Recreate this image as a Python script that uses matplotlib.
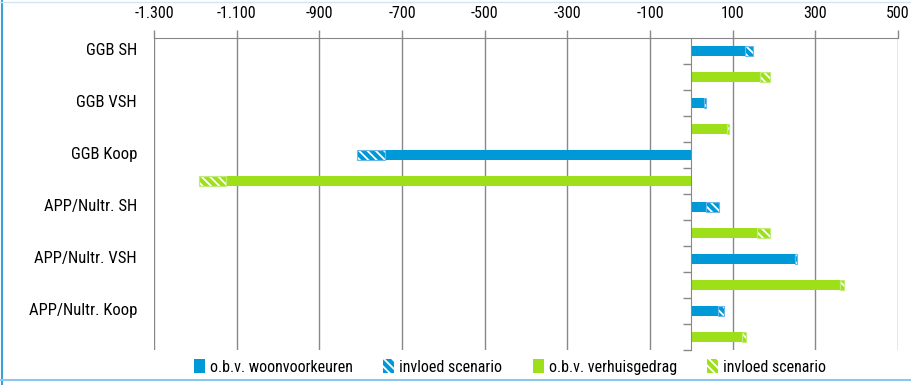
import matplotlib
matplotlib.use("Agg")
import matplotlib.pyplot as plt
from matplotlib.patches import Patch
from matplotlib.lines import Line2D
from matplotlib import font_manager
import numpy as np

names = {f.name for f in font_manager.fontManager.ttflist}
fam = [n for n in ['Liberation Sans Narrow', 'DejaVu Sans Condensed', 'Roboto Condensed'] if n in names]
plt.rcParams['font.family'] = fam + ['DejaVu Sans']
if not fam:
    plt.rcParams['font.stretch'] = 'condensed'

categories = ["GGB SH", "GGB VSH", "GGB Koop", "APP/Nultr. SH", "APP/Nultr. VSH", "APP/Nultr. Koop"]
woon_base = [130, 30, -740, 35, 250, 65]
woon_scen = [20, 5, -70, 31, 5, 15]
verh_base = [165, 86, -1125, 160, 360, 123]
verh_scen = [25, 4, -65, 30, 10, 9]
xticks = [-1300, -1100, -900, -700, -500, -300, -100, 100, 300, 500]
xticklabels = ["-1.300", "-1.100", "-900", "-700", "-500", "-300", "-100", "100", "300", "500"]
legend_labels = ["o.b.v. woonvoorkeuren", "invloed scenario", "o.b.v. verhuisgedrag", "invloed scenario"]

blue = "#0099d8"
blue_edge = "#6cb8e6"
green = "#9de01a"
green_edge = "#c2ec7a"

W, H = 911, 385
fig = plt.figure(figsize=(W / 100, H / 100), dpi=100)
ax = fig.add_axes([154 / W, 1 - 350 / H, (898 - 154) / W, (350 - 38) / H])

n = len(categories)
pos_blue = np.arange(n) * 2
pos_green = pos_blue + 1
h = 0.42

plt.rcParams['hatch.linewidth'] = 1.3
hatch = "\\\\\\\\"

ax.barh(pos_blue, woon_base, height=h, color=blue, linewidth=0, zorder=3)
ax.barh(pos_green, verh_base, height=h, color=green, linewidth=0, zorder=3)
ax.barh(pos_blue, woon_scen, left=woon_base, height=h, color=blue, edgecolor="white",
        hatch=hatch, linewidth=0, zorder=3)
ax.barh(pos_blue, woon_scen, left=woon_base, height=h, fill=False, edgecolor=blue_edge,
        linewidth=0.8, zorder=4)
ax.barh(pos_green, verh_scen, left=verh_base, height=h, color=green, edgecolor="white",
        hatch=hatch, linewidth=0, zorder=3)
ax.barh(pos_green, verh_scen, left=verh_base, height=h, fill=False, edgecolor=green_edge,
        linewidth=0.8, zorder=4)

ax.set_xlim(-1300, 500)
ax.set_ylim(2 * n - 0.5, -0.5)
ax.set_xticks(xticks)
ax.set_xticklabels(xticklabels, fontsize=11.5, color="black")
ax.xaxis.tick_top()
ax.tick_params(axis='x', length=6, color="#888888", width=1, pad=6)
ax.grid(axis='x', color="#888888", linewidth=1, zorder=1)

for s in ["right", "bottom"]:
    ax.spines[s].set_visible(False)
ax.spines["top"].set_color("#888888")
ax.spines["left"].set_position(("data", 0))
ax.spines["left"].set_color("#888888")
ax.spines["left"].set_zorder(5)
ax.set_yticks(np.arange(0.5, 2 * n, 1))
ax.set_yticklabels([])
ax.tick_params(axis='y', length=6, color="#888888", width=1, direction='out')

trans = ax.get_yaxis_transform()
for i, c in enumerate(categories):
    ax.text(-0.023, pos_blue[i], c, transform=trans, ha='right', va='center',
            fontsize=12, color="black")

handles = [Patch(facecolor=blue, edgecolor=blue, linewidth=0),
           Patch(facecolor=blue, edgecolor="white", hatch=hatch, linewidth=0),
           Patch(facecolor=green, edgecolor=green, linewidth=0),
           Patch(facecolor=green, edgecolor="white", hatch=hatch, linewidth=0)]
fig.legend(handles, legend_labels, loc='center', bbox_to_anchor=(510 / W, 1 - 367 / H), ncol=4,
           frameon=False, fontsize=11.5, handlelength=0.7, handleheight=0.9,
           handletextpad=0.3, columnspacing=1.9)

fig.add_artist(Line2D([2 / W, 2 / W], [0, 1], color="#3aa0dc", linewidth=1.5, transform=fig.transFigure))
fig.add_artist(Line2D([0, 1], [1 - 380 / H, 1 - 380 / H], color="#8cc8ec", linewidth=1.5, transform=fig.transFigure))
fig.add_artist(Line2D([0, 1], [1 - 2 / H, 1 - 2 / H], color="#cfe6f5", linewidth=1.0, transform=fig.transFigure))

fig.savefig("out.png", dpi=100)
